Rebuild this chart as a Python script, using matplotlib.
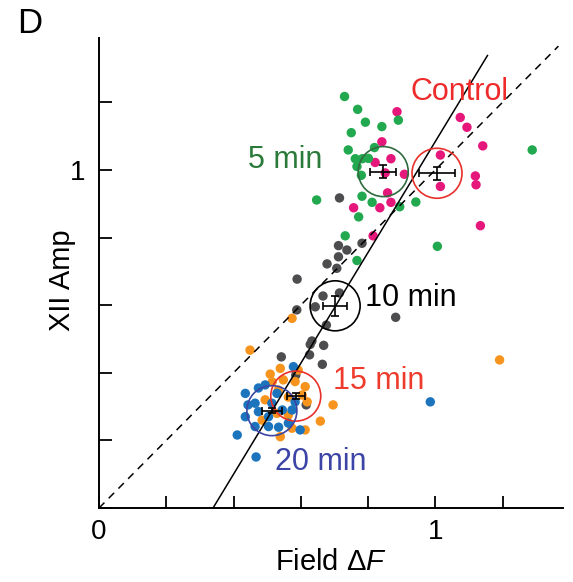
import matplotlib
matplotlib.use("Agg")
import matplotlib.pyplot as plt

plt.rcParams['font.family'] = ['Liberation Sans', 'DejaVu Sans']
plt.rcParams['mathtext.fontset'] = 'custom'
plt.rcParams['mathtext.rm'] = 'Liberation Sans'
plt.rcParams['mathtext.it'] = 'Liberation Sans:italic'

# individual cells (Field dF, XII amp)
ctrl_x = [0.886, 1.074, 1.094, 0.841, 1.141, 1.015, 0.868, 0.821, 0.851, 0.908,
          1.119, 1.121, 1.015, 0.858, 0.868, 0.835, 0.757, 1.134, 0.815]
ctrl_y = [1.172, 1.155, 1.126, 1.083, 1.071, 1.044, 1.033, 1.022, 0.991, 0.987,
          0.982, 0.956, 0.951, 0.932, 0.904, 0.888, 0.888, 0.835, 0.805]

m5_x = [0.730, 0.769, 0.890, 0.792, 0.841, 0.750, 0.819, 0.741, 0.762, 0.783,
        0.801, 0.767, 0.780, 0.647, 0.782, 0.812, 0.894, 0.942, 0.772, 0.732,
        0.767, 1.288, 1.006]
m5_y = [1.217, 1.179, 1.147, 1.141, 1.128, 1.110, 1.066, 1.059, 1.033, 1.033,
        1.034, 1.010, 0.984, 0.911, 0.922, 0.904, 0.891, 0.905, 0.861, 0.805,
        0.732, 1.059, 0.774]

m10_x = [0.715, 0.712, 0.737, 0.782, 0.712, 0.678, 0.707, 0.589, 0.715, 0.666,
         0.643, 0.588, 0.676, 0.882, 0.633, 0.668, 0.628, 0.542, 0.626, 0.664,
         0.585, 0.616]
m10_y = [0.917, 0.776, 0.763, 0.783, 0.743, 0.722, 0.709, 0.677, 0.636, 0.627,
         0.595, 0.586, 0.541, 0.564, 0.494, 0.481, 0.484, 0.447, 0.453, 0.425,
         0.393, 0.305]

m15_x = [0.574, 0.449, 0.509, 0.539, 0.515, 0.548, 0.583, 0.613, 0.604, 0.533,
         0.563, 0.619, 0.494, 0.658, 0.696, 0.529, 0.563, 0.574, 0.539, 0.613,
         0.485, 1.191, 0.592]
m15_y = [0.561, 0.467, 0.396, 0.413, 0.373, 0.379, 0.374, 0.359, 0.334, 0.349,
         0.328, 0.314, 0.320, 0.257, 0.305, 0.280, 0.275, 0.236, 0.211, 0.231,
         0.260, 0.438, 0.408]

m20_x = [0.578, 0.435, 0.474, 0.494, 0.464, 0.529, 0.514, 0.574, 0.583, 0.474,
         0.504, 0.435, 0.464, 0.504, 0.534, 0.563, 0.598, 0.411, 0.467, 0.985,
         0.443, 0.545]
m20_y = [0.418, 0.339, 0.355, 0.364, 0.310, 0.339, 0.310, 0.290, 0.314, 0.285,
         0.270, 0.270, 0.241, 0.241, 0.239, 0.251, 0.231, 0.216, 0.151, 0.314,
         0.305, 0.290]

# group means +/- SEM
groups = ['Control', '5 min', '10 min', '15 min', '20 min']
mean_x = [1.005, 0.845, 0.702, 0.585, 0.514]
mean_y = [0.990, 0.995, 0.598, 0.331, 0.288]
sem_x = [0.053, 0.038, 0.035, 0.027, 0.029]
sem_y = [0.020, 0.020, 0.030, 0.010, 0.008]

# regression line and identity line
fit_slope, fit_x0 = 1.64, 0.339

dot_cols = ['#e5177b', '#22a94f', '#4d4d4f', '#f7941d', '#1c75bc']
ring_cols = ['#e8302a', '#2f6b3e', '#000000', '#e8302a', '#3c45a5']
text_cols = ['#ee2a2a', '#2a7a3a', '#000000', '#ef3b2c', '#3c45a5']
label_pos = [(0.926, 1.231), (0.443, 1.030), (0.792, 0.621), (0.696, 0.376), (0.524, 0.136)]

fig = plt.figure(figsize=(5.73, 5.82), dpi=100)
ax = fig.add_axes([0.1728, 0.1271, 0.81, 0.8076])

all_x = [ctrl_x, m5_x, m10_x, m15_x, m20_x]
all_y = [ctrl_y, m5_y, m10_y, m15_y, m20_y]
for xs, ys, c in zip(all_x, all_y, dot_cols):
    ax.scatter(xs, ys, s=46, color=c, edgecolors='none', zorder=2)

# dashed identity line, solid fit
ax.plot([0, 1.366], [0, 1.366], color='black', lw=1.1, ls=(0, (5, 4)), zorder=3)
x_end = 1.155
ax.plot([fit_x0, x_end], [0, fit_slope * (x_end - fit_x0)], color='black', lw=1.1, zorder=3)

for i in range(len(groups)):
    ax.scatter(mean_x[i], mean_y[i], s=1296, facecolors='none',
               edgecolors=ring_cols[i], linewidths=1.2, zorder=4)
    ax.errorbar(mean_x[i], mean_y[i], xerr=sem_x[i], yerr=sem_y[i], fmt='none',
                ecolor='black', elinewidth=1.2, capsize=3, capthick=1.2, zorder=5)
    ax.text(label_pos[i][0], label_pos[i][1], groups[i], color=text_cols[i],
            fontsize=22, ha='left', va='center')

ax.set_xlim(0, 1.38)
ax.set_ylim(0, 1.39)
ax.spines['top'].set_visible(False)
ax.spines['right'].set_visible(False)
for s in ['left', 'bottom']:
    ax.spines[s].set_linewidth(1.4)

ticks = [0, 0.2, 0.4, 0.6, 0.8, 1.0, 1.2]
ax.set_xticks(ticks)
ax.set_xticklabels(['0', '', '', '', '', '1', ''])
ax.set_yticks(ticks)
ax.set_yticklabels(['', '', '', '', '', '1', ''])
ax.tick_params(direction='in', length=9, width=1.3, labelsize=20, pad=8)
ax.tick_params(axis='y', pad=10)

ax.set_xlabel('Field $\\Delta\\mathit{F}$', fontsize=21, labelpad=2)
ax.set_ylabel('XII Amp', fontsize=21)
ax.yaxis.set_label_coords(-0.05, 0.485)

fig.text(0.03, 0.988, 'D', fontsize=25, ha='left', va='top')

fig.savefig('out.png', dpi=100)
